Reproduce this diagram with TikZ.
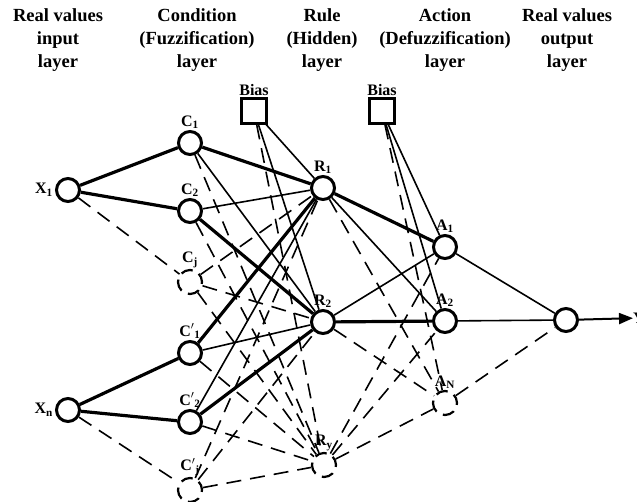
\documentclass[tikz,border=0pt]{standalone}
\usepackage{fontspec}
\setmainfont{Liberation Serif}
\usetikzlibrary{arrows.meta}
\begin{document}
\begin{tikzpicture}[
  x=1pt, y=-1pt,
  every node/.style={font=\bfseries\fontsize{16}{17}\selectfont},
  neuron/.style={circle, draw, line width=3pt, minimum size=23pt, inner sep=0pt, fill=white},
  dneuron/.style={circle, draw, line width=2.2pt, minimum size=24pt, inner sep=0pt, dash pattern=on 12pt off 7pt, dash phase=3pt},
  biasbox/.style={rectangle, draw, line width=2.2pt, minimum size=25pt, inner sep=0pt},
  head/.style={align=center, font=\bfseries\fontsize{18.5}{23}\selectfont},
  strong/.style={line width=3.2pt},
  weak/.style={line width=1.6pt},
  dlink/.style={line width=1.6pt, dash pattern=on 15pt off 9pt}
  ]
  \useasboundingbox (0,0) rectangle (637,502);
  % layer titles
  \node[head] (hin) at (58,40) {Real values\\input\\layer};
  \node[head] (hcond) at (197,40) {Condition\\(Fuzzification)\\layer};
  \node[head] (hrule) at (322,40) {Rule\\(Hidden)\\layer};
  \node[head] (hact) at (445,40) {Action\\(Defuzzification)\\layer};
  \node[head] (hout) at (567,40) {Real values\\output\\layer};
  % bias units
  \node[biasbox, label={[inner sep=2pt]above:Bias}] (biasa) at (254,111) {};
  \node[biasbox, label={[inner sep=2pt]above:Bias}] (biasb) at (382,111) {};
  % input layer
  \node[neuron, label={[inner sep=2pt]left:X\textsubscript{1}}] (xa) at (68,190) {};
  \node[neuron, label={[inner sep=2pt]left:X\textsubscript{n}}] (xn) at (68,410) {};
  % condition layer
  \node[neuron, label={[inner sep=1pt]above:C\textsubscript{1}}] (ca) at (190,143) {};
  \node[neuron, label={[inner sep=1pt]above:C\textsubscript{2}}] (cb) at (190,211) {};
  \node[dneuron, label={[inner sep=1pt]above:C\textsubscript{j}}] (cj) at (190,282) {};
  \node[neuron, label={[inner sep=1pt]above:C$'$\textsubscript{1}}] (cpa) at (190,353) {};
  \node[neuron, label={[inner sep=1pt]above:C$'$\textsubscript{2}}] (cpb) at (190,422) {};
  \node[dneuron, label={[inner sep=1pt]above:C$'$\textsubscript{j}}] (cpj) at (190,490) {};
  % rule layer
  \node[neuron, label={[inner sep=1pt]above:R\textsubscript{1}}] (ra) at (323,188) {};
  \node[neuron, label={[inner sep=1pt]above:R\textsubscript{2}}] (rb) at (323,322) {};
  \node[dneuron, label={[inner sep=1pt]above:R\textsubscript{y}}] (ry) at (324,465) {};
  % action layer
  \node[neuron, label={[inner sep=1pt]above:A\textsubscript{1}}] (aa) at (445,247) {};
  \node[neuron, label={[inner sep=1pt]above:A\textsubscript{2}}] (ab) at (445,321) {};
  \node[dneuron, label={[inner sep=1pt]above:A\textsubscript{N}}] (an) at (445,403) {};
  % output
  \node[neuron] (out) at (566,320) {};
  \node[anchor=west, inner sep=0pt] (y) at (633,318) {Y};

  % input -> condition
  \draw[strong] (xa) -- (ca);
  \draw[strong] (xa) -- (cb);
  \draw[dlink] (xa) -- (cj);
  \draw[strong] (xn) -- (cpa);
  \draw[strong] (xn) -- (cpb);
  \draw[dlink] (xn) -- (cpj);
  % condition -> rule
  \draw[strong] (ca) -- (ra);
  \draw[weak] (ca) -- (rb);
  \draw[dlink] (ca) -- (ry);
  \draw[weak] (cb) -- (ra);
  \draw[strong] (cb) -- (rb);
  \draw[dlink] (cb) -- (ry);
  \draw[dlink] (cj) -- (ra);
  \draw[dlink] (cj) -- (rb);
  \draw[dlink] (cj) -- (ry);
  \draw[strong] (cpa) -- (ra);
  \draw[weak] (cpa) -- (rb);
  \draw[dlink] (cpa) -- (ry);
  \draw[weak] (cpb) -- (ra);
  \draw[strong] (cpb) -- (rb);
  \draw[dlink] (cpb) -- (ry);
  \draw[dlink] (cpj) -- (ra);
  \draw[dlink] (cpj) -- (rb);
  \draw[dlink] (cpj) -- (ry);
  \draw[weak] (biasa) -- (ra);
  \draw[weak] (biasa) -- (rb);
  \draw[dlink] (biasa) -- (ry);
  % rule -> action
  \draw[strong] (ra) -- (aa);
  \draw[weak] (ra) -- (ab);
  \draw[dlink] (ra) -- (an);
  \draw[weak] (rb) -- (aa);
  \draw[strong] (rb) -- (ab);
  \draw[dlink] (rb) -- (an);
  \draw[dlink] (ry) -- (aa);
  \draw[dlink] (ry) -- (ab);
  \draw[dlink] (ry) -- (an);
  \draw[weak] (biasb) -- (aa);
  \draw[weak] (biasb) -- (ab);
  \draw[dlink] (biasb) -- (an);
  % action -> output
  \draw[weak] (aa) -- (out);
  \draw[weak] (ab) -- (out);
  \draw[dlink] (an) -- (out);
  \draw[line width=2pt, -{Triangle[length=14pt, width=11pt]}] (out) -- (y);
\end{tikzpicture}
\end{document}
